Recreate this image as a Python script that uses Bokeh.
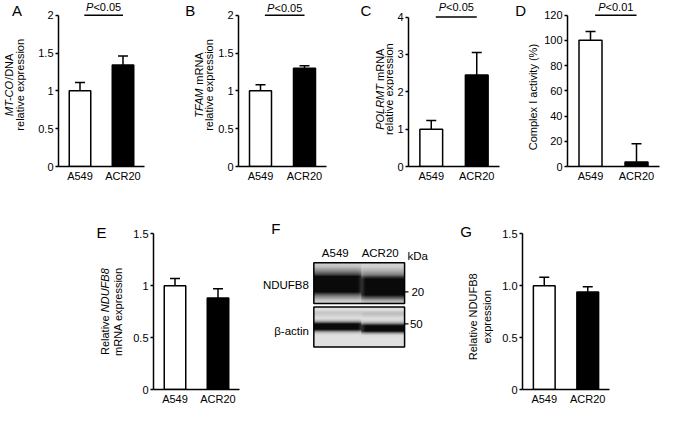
import numpy as np
from math import pi
from bokeh.plotting import figure
from bokeh.models import (ColumnDataSource, Range1d, FactorRange, FixedTicker,
                          Label, Whisker, TeeHead)
from bokeh.layouts import row, column
from bokeh.embed import file_html
from bokeh.resources import INLINE
from bokeh.core.properties import value

FONT = "Liberation Sans"
FS = "11px"

# ---------------- data ----------------
cats = ["A549", "ACR20"]
bar_fills = ["white", "black"]

a_mean = [1.0, 1.34]
a_err = [0.11, 0.12]
b_mean = [1.0, 1.30]
b_err = [0.08, 0.03]
c_mean = [1.0, 2.45]
c_err = [0.23, 0.60]
d_mean = [100.0, 3.5]
d_err = [7.0, 14.5]
e_mean = [1.0, 0.88]
e_err = [0.07, 0.09]
g_mean = [1.0, 0.94]
g_err = [0.08, 0.05]

ab_ticks = [0, 0.5, 1, 1.5, 2]
ab_tick_labels = ["0", "0.5", "1", "1.5", "2"]
c_ticks = [0, 1, 2, 3, 4]
c_tick_labels = ["0", "1", "2", "3", "4"]
d_ticks = [0, 20, 40, 60, 80, 100, 120]
d_tick_labels = ["0", "20", "40", "60", "80", "100", "120"]
e_ticks = [0, 0.5, 1, 1.5]
e_tick_labels = ["0", "0.5", "1", "1.5"]
g_ticks = [0, 0.5, 1, 1.5]
g_tick_labels = ["0", "0.5", "1.0", "1.5"]

p_texts = [("P", "<0.05"), ("P", "<0.05"), ("P", "<0.05"), ("P", "<0.01")]

blot_lanes = ["A549", "ACR20"]
blot_bands = ["NDUFB8", "β-actin"]
kda_marks = ["20", "50"]

# ---------------- helpers ----------------
AW = {'A': 667, 'B': 667, 'C': 722, 'D': 722, 'F': 611, 'L': 556, 'M': 833, 'N': 722,
      'O': 778, 'P': 667, 'R': 722, 'T': 611, 'U': 722, 'a': 556, 'e': 556, 'i': 222,
      'l': 222, 't': 278, 'v': 500, 'x': 500, 'p': 556, 'r': 333, 's': 500, 'o': 556,
      'n': 556, 'm': 833, ' ': 278, '/': 278, '-': 333, '<': 584, '.': 278,
      'I': 278, 'c': 500, 'y': 500, '(': 333, ')': 333, '%': 889}


def tw(s, size=11.0):
    return sum(AW.get(ch, 556) for ch in s) * size / 1000.0


def mixed(p, x, y, parts, rotated, xo=0.0, yo=0.0, size=11.0):
    total = sum(tw(t, size) for t, _ in parts)
    off = -total / 2.0
    for t, style in parts:
        lead = len(t) - len(t.lstrip(" "))
        off += tw(" " * lead, size)
        core = t.strip(" ")
        kw = dict(x=x, y=y, x_units="data", y_units="data", text=core,
                  text_font=FONT, text_font_size=f"{size}px", text_font_style=style,
                  text_color="black", text_align="left", text_baseline="middle")
        if rotated:
            kw.update(angle=pi / 2, x_offset=xo, y_offset=yo + off)
        else:
            kw.update(x_offset=xo + off, y_offset=yo)
        p.add_layout(Label(**kw))
        off += tw(t.lstrip(" "), size)


def strip(p, x0, x1):
    """A plain text strip left of a chart, sharing its y scale."""
    s = figure(x_range=Range1d(x0, x1), y_range=p.y_range, width=x1 - x0, height=p.height,
               min_border_left=0, min_border_right=0, min_border_top=0,
               min_border_bottom=p.min_border_bottom, title_location=None,
               x_axis_location=None, y_axis_location=None,
               output_backend="svg", toolbar_location=None)
    s.xgrid.visible = False
    s.ygrid.visible = False
    s.outline_line_color = None
    return s


def letter(s, txt, x, y):
    s.add_layout(Label(x=x, y=y, text=txt, text_font=FONT, text_font_size="15px",
                       text_align="center", text_baseline="middle", text_color="black"))


def panel(means, errs, ticks, tick_labels, y_end, width, height, left, right, bottom):
    p = figure(x_range=FactorRange(*cats), y_range=Range1d(0, y_end),
               width=width, height=height, min_border_left=left, min_border_right=right,
               min_border_top=0, min_border_bottom=bottom, title_location=None,
               output_backend="svg", toolbar_location=None)
    src = ColumnDataSource(dict(x=cats, top=means, fill=bar_fills,
                                upper=[m + e for m, e in zip(means, errs)]))
    p.vbar(x="x", top="top", width=0.5, source=src, fill_color="fill",
           line_color="black", line_width=1.5)
    p.add_layout(Whisker(base="x", upper="upper", lower="top", source=src,
                         dimension="height", line_color="black", line_width=1.5,
                         upper_head=TeeHead(size=10, line_width=1.5, line_color="black"),
                         lower_head=None))
    p.xgrid.visible = False
    p.ygrid.visible = False
    p.outline_line_color = None
    for ax in (p.xaxis[0], p.yaxis[0]):
        ax.axis_line_width = 1.5
        ax.axis_line_color = "black"
        ax.major_label_text_font = FONT
        ax.major_label_text_font_size = FS
        ax.major_label_text_color = "black"
        ax.minor_tick_line_color = None
    p.xaxis.major_tick_line_color = None
    p.xaxis.major_tick_out = 0
    p.xaxis.major_tick_in = 0
    p.xaxis.major_label_standoff = 3
    p.yaxis.ticker = FixedTicker(ticks=ticks)
    p.yaxis.major_label_overrides = {t: l for t, l in zip(ticks, tick_labels)}
    p.yaxis.bounds = (0, ticks[-1])
    p.yaxis.major_tick_out = 3
    p.yaxis.major_tick_in = 0
    p.yaxis.major_tick_line_width = 1.5
    p.yaxis.major_label_standoff = 2
    return p


def sig(p, ytop, ptxt, ytext):
    p.segment(x0=[0.6], x1=[1.5], y0=[ytop], y1=[ytop], line_color="black", line_width=1.5)
    mixed(p, 1.05, ytext, [(ptxt[0], "italic"), (ptxt[1], "normal")], False)


# ---------------- top row ----------------
pa = panel(a_mean, a_err, ab_ticks, ab_tick_labels, 2.194, 120, 200, 28, 6, 34)
sig(pa, 2, p_texts[0], 2.103)
sa = strip(pa, 0, 30)
letter(sa, "A", 16.6, 2.065)
mixed(sa, 8.8, 1.08, [("MT-CO", "italic"), ("/DNA", "normal")], True)
mixed(sa, 19.0, 1.08, [("relative expression", "normal")], True)

pb = panel(b_mean, b_err, ab_ticks, ab_tick_labels, 2.194, 119, 200, 23, 8, 34)
sig(pb, 2, p_texts[1], 2.097)
sb = strip(pb, 150, 215)
letter(sb, "B", 189.8, 2.058)
mixed(sb, 198.1, 1.077, [("TFAM", "italic"), (" mRNA", "normal")], True)
mixed(sb, 208.4, 1.077, [("relative expression", "normal")], True)

pc = panel(c_mean, c_err, c_ticks, c_tick_labels, 4.445, 111, 200, 11, 6, 34)
sig(pc, 4, p_texts[2], 4.26)
sc = strip(pc, 334, 394)
letter(sc, "C", 365.5, 4.183)
mixed(sc, 379.7, 2.07, [("POLRMT", "italic"), (" mRNA", "normal")], True)
mixed(sc, 388.6, 2.07, [("relative expression", "normal")], True)

pd_ = panel(d_mean, d_err, d_ticks, d_tick_labels, 131.6, 120, 200, 26, 2, 34)
sig(pd_, 120, p_texts[3], 126.6)
sd = strip(pd_, 505, 541)
letter(sd, "D", 520.2, 123.5)
mixed(sd, 532.4, 55, [("Complex I activity (%)", "normal")], True)

# ---------------- bottom row ----------------
pe = panel(e_mean, e_err, e_ticks, e_tick_labels, 1.82, 119, 208, 27, 6, 19)
se = strip(pe, 0, 126)
letter(se, "E", 101, 1.509)
mixed(se, 104.4, 0.75, [("Relative ", "normal"), ("NDUFB8", "italic")], True)
mixed(se, 117.1, 0.75, [("mRNA expression", "normal")], True)

pg = panel(g_mean, g_err, g_ticks, g_tick_labels, 1.82, 165, 208, 26, 52, 19)
sg = strip(pg, 440, 496)
letter(sg, "G", 465.6, 1.519)
mixed(sg, 472.4, 0.70, [("Relative NDUFB8", "normal")], True)
mixed(sg, 486.0, 0.70, [("expression", "normal")], True)

# ---------------- western blot (F) ----------------
pf = figure(x_range=Range1d(251.0, 450.8), y_range=Range1d(-421.0, -207.9),
            width=195, height=208, min_border=0, title_location=None,
            x_axis_location=None, y_axis_location=None,
            output_backend="svg", toolbar_location=None)
pf.xgrid.visible = False
pf.ygrid.visible = False
pf.outline_line_color = None


def blot_image(x0, x1, y0, y1, bands, bg):
    W = int(x1 - x0)
    H = int(y1 - y0)
    xs = x0 + np.arange(W) + 0.5
    ys = y1 - (np.arange(H) + 0.5)          # row 0 at bottom
    X, Y = np.meshgrid(xs, ys)
    d = np.zeros_like(X)
    for (lx0, lx1, yc, s_top, s_bot, amp) in bands:
        s = np.where(Y < yc, s_top, s_bot)
        inl = ((X >= lx0) & (X < lx1)).astype(float)
        d += inl * amp * np.exp(-((Y - yc) / s) ** 2)
    d = np.clip(d, 0, 1)
    d *= 1 - 0.18 * np.exp(-((X - 369.5) / 2.5) ** 2)
    g = bg * (1 - d) + 0.04 * d
    img = np.empty((H, W), dtype=np.uint32)
    v = img.view(dtype=np.uint8).reshape((H, W, 4))
    v[:, :, 0] = (g * 255).astype(np.uint8)
    v[:, :, 1] = (g * 255).astype(np.uint8)
    v[:, :, 2] = (g * 255).astype(np.uint8)
    v[:, :, 3] = 255
    return img, W, H


nd_img, nw, nh = blot_image(321, 414, 278, 324,
                            [(321, 369.5, 304, 13, 10, 1.8), (369.5, 414, 307, 13, 10, 1.8)], 0.86)
ac_img, aw, ah = blot_image(321, 414, 328, 373,
                            [(321, 369.5, 351, 4.5, 4.0, 1.8), (369.5, 414, 352.5, 4.5, 4.0, 1.8),
                             (321, 369.5, 336, 3, 3, 0.12), (369.5, 414, 336.5, 3, 3, 0.16)], 0.88)
pf.image_rgba(image=[nd_img], x=321, y=-324, dw=nw, dh=nh)
pf.image_rgba(image=[ac_img], x=321, y=-373, dw=aw, dh=ah)
pf.quad(left=[321, 321], right=[414, 414], bottom=[-324, -373], top=[-278, -328],
        fill_color=None, line_color="black", line_width=1.5)

tkw = dict(text_font=value(FONT), text_font_size="11.5px", text_color="black")
pf.text(x=[343, 389], y=[-267.5, -267.5], text=blot_lanes, text_align="center",
        text_baseline="middle", **tkw)
pf.text(x=[427.5], y=[-271], text=["kDa"], text_align="center", text_baseline="middle", **tkw)
pf.text(x=[316, 316], y=[-303, -354.5], text=blot_bands, text_align="right",
        text_baseline="middle", **tkw)
pf.segment(x0=[414, 414], x1=[418, 418], y0=[-311, -347], y1=[-311, -347],
           line_color="black", line_width=1.2)
pf.text(x=[421, 419.5], y=[-311, -347.5], text=kda_marks, text_align="left",
        text_baseline="middle", **tkw)
pf.text(x=[282], y=[-240], text=["F"], text_align="center", text_baseline="middle",
        text_font=value(FONT), text_font_size="15px", text_color="black")

layout = column(row(sa, pa, sb, pb, sc, pc, sd, pd_), row(se, pe, pf, sg, pg))
open("out.html", "w").write(file_html(layout, INLINE))
